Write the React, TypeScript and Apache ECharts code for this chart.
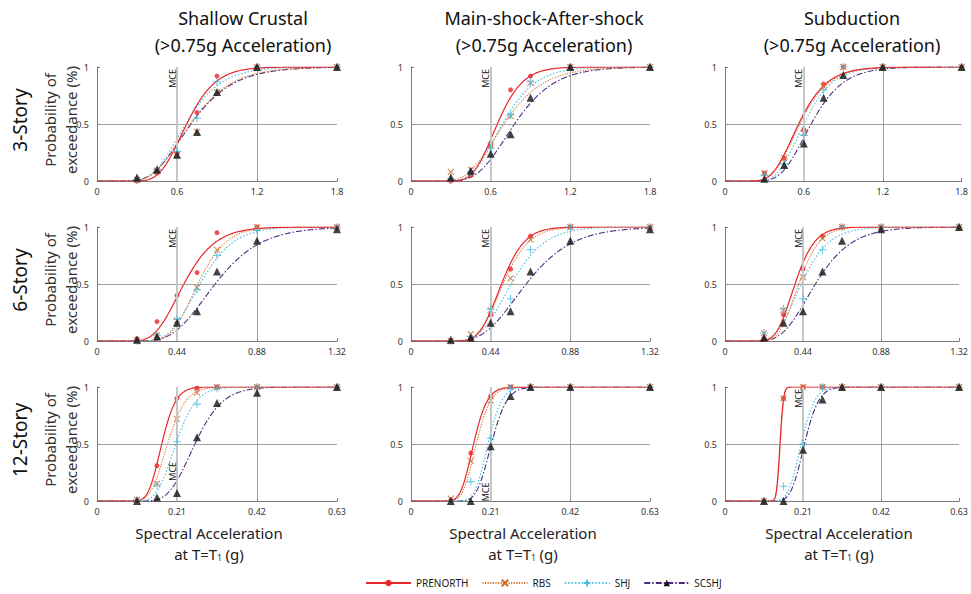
import React, { useEffect, useRef } from 'react';
import * as echarts from 'echarts';

// ---- data -------------------------------------------------------------
const METHODS = ['PRENORTH', 'RBS', 'SHJ', 'SCSHJ'];
const HAZARDS = ['Shallow Crustal', 'Main-shock-After-shock', 'Subduction'];
const STOREYS = ['3-Story', '6-Story', '12-Story'];

// axis extent and MCE level of each building row (g)
const X_MAX = [1.8, 1.32, 0.63];
const MCE = [0.6, 0.44, 0.21];

// intensity levels of the incremental dynamic analyses (g)
const X_3STORY = [0.3, 0.45, 0.6, 0.75, 0.9, 1.2, 1.8];
const X_6STORY = [0.22, 0.33, 0.44, 0.55, 0.66, 0.88, 1.32];
const X_12STORY = [0.105, 0.1575, 0.21, 0.2625, 0.315, 0.42, 0.63];

// observed exceedance fractions, rows = PRENORTH, RBS, SHJ, SCSHJ
const OBS_3_SHALLOW = [
  [0, 0.07, 0.24, 0.6, 0.92, 1, 1],
  [0.01, 0.09, 0.23, 0.43, 0.78, 1, 1],
  [0.01, 0.1, 0.26, 0.55, 0.87, 1, 1],
  [0.03, 0.1, 0.23, 0.43, 0.78, 1, 1],
];
const OBS_3_MAINAFTER = [
  [0, 0.05, 0.31, 0.8, 0.92, 1, 1],
  [0.08, 0.1, 0.31, 0.57, 0.86, 1, 1],
  [0.02, 0.08, 0.29, 0.58, 0.87, 1, 1],
  [0.03, 0.09, 0.24, 0.41, 0.73, 1, 1],
];
const OBS_3_SUBDUCTION = [
  [0.07, 0.2, 0.45, 0.85, 1, 1, 1],
  [0.07, 0.2, 0.42, 0.83, 1, 1, 1],
  [0.05, 0.15, 0.4, 0.8, 1, 1, 1],
  [0.02, 0.14, 0.33, 0.73, 0.93, 1, 1],
];
const OBS_6_SHALLOW = [
  [0.02, 0.17, 0.4, 0.6, 0.95, 1, 1],
  [0, 0.05, 0.18, 0.47, 0.8, 1, 1],
  [0, 0.05, 0.19, 0.45, 0.75, 0.97, 1],
  [0.01, 0.04, 0.16, 0.26, 0.61, 0.88, 0.98],
];
const OBS_6_MAINAFTER = [
  [0, 0.02, 0.23, 0.63, 0.92, 1, 1],
  [0, 0.06, 0.27, 0.55, 0.89, 1, 1],
  [0, 0.04, 0.28, 0.37, 0.8, 1, 1],
  [0.01, 0.03, 0.16, 0.26, 0.61, 0.88, 0.98],
];
const OBS_6_SUBDUCTION = [
  [0.02, 0.23, 0.63, 0.92, 1, 1, 1],
  [0.07, 0.27, 0.56, 0.9, 1, 1, 1],
  [0.07, 0.28, 0.37, 0.8, 1, 1, 1],
  [0.03, 0.16, 0.26, 0.61, 0.88, 0.98, 1],
];
const OBS_12_SHALLOW = [
  [0.01, 0.31, 0.9, 0.99, 1, 1, 1],
  [0.01, 0.15, 0.72, 0.95, 1, 1, 1],
  [0.01, 0.14, 0.52, 0.85, 0.99, 1, 1],
  [0, 0.03, 0.07, 0.56, 0.86, 0.95, 1],
];
const OBS_12_MAINAFTER = [
  [0.01, 0.42, 0.92, 1, 1, 1, 1],
  [0.02, 0.35, 0.88, 1, 1, 1, 1],
  [0, 0.17, 0.55, 0.99, 1, 1, 1],
  [0, 0, 0.48, 0.92, 1, 1, 1],
];
const OBS_12_SUBDUCTION = [
  [0, 0.9, 1, 1, 1, 1, 1],
  [0, 0.9, 1, 1, 1, 1, 1],
  [0, 0.13, 0.5, 1, 1, 1, 1],
  [0, 0, 0.45, 0.89, 1, 1, 1],
];

// fitted lognormal fragility parameters [median (g), dispersion beta]
const FIT_3_SHALLOW = [[0.673, 0.25], [0.7, 0.34], [0.665, 0.31], [0.705, 0.35]];
const FIT_3_MAINAFTER = [[0.65, 0.23], [0.7, 0.33], [0.69, 0.28], [0.78, 0.3]];
const FIT_3_SUBDUCTION = [[0.56, 0.3], [0.57, 0.3], [0.6, 0.28], [0.655, 0.29]];
const FIT_6_SHALLOW = [[0.478, 0.28], [0.555, 0.22], [0.567, 0.25], [0.65, 0.3]];
const FIT_6_MAINAFTER = [[0.5, 0.2], [0.508, 0.22], [0.554, 0.26], [0.636, 0.31]];
const FIT_6_SUBDUCTION = [[0.395, 0.22], [0.416, 0.22], [0.43, 0.28], [0.51, 0.31]];
const FIT_12_SHALLOW = [[0.17, 0.17], [0.185, 0.2], [0.207, 0.2], [0.257, 0.22]];
const FIT_12_MAINAFTER = [[0.165, 0.17], [0.172, 0.17], [0.203, 0.14], [0.212, 0.15]];
const FIT_12_SUBDUCTION = [[0.148, 0.05], [0.149, 0.05], [0.205, 0.14], [0.214, 0.14]];

// height (probability) where the MCE tag sits in each panel
const MCE_TAG_Y = [
  [0.9, 0.9, 0.9],
  [0.9, 0.9, 0.9],
  [0.26, 0.08, 0.9],
];

// ---- layout & styles ----------------------------------------------------
const FONT = 'Noto Sans';
const GRID_LEFT = [97, 411, 725];
const GRID_WIDTH = [240, 239, 238];
const GRID_TOP = [67, 227, 387];
const GRID_HEIGHT = 114;

const X_LEVELS = [X_3STORY, X_6STORY, X_12STORY];
const OBS = [
  [OBS_3_SHALLOW, OBS_3_MAINAFTER, OBS_3_SUBDUCTION],
  [OBS_6_SHALLOW, OBS_6_MAINAFTER, OBS_6_SUBDUCTION],
  [OBS_12_SHALLOW, OBS_12_MAINAFTER, OBS_12_SUBDUCTION],
];
const FIT = [
  [FIT_3_SHALLOW, FIT_3_MAINAFTER, FIT_3_SUBDUCTION],
  [FIT_6_SHALLOW, FIT_6_MAINAFTER, FIT_6_SUBDUCTION],
  [FIT_12_SHALLOW, FIT_12_MAINAFTER, FIT_12_SUBDUCTION],
];

const CROSS = 'path://M0,0L10,10M10,0L0,10';
const PLUS = 'path://M5,0L5,10M0,5L10,5';

const STYLE: Record<string, any> = {
  PRENORTH: { line: '#e8262c', mark: '#e8262c', dash: 'solid', width: 1.2, symbol: 'circle', size: 5, stroke: false },
  RBS: { line: '#d4742e', mark: '#cf6a2a', dash: [1.2, 1.4], width: 1.1, symbol: CROSS, size: 6, stroke: true },
  SHJ: { line: '#58c4e4', mark: '#45bde2', dash: [1.6, 1.8], width: 1.2, symbol: PLUS, size: 8, stroke: true },
  SCSHJ: { line: '#4c2c80', mark: '#111111', dash: [6, 2, 1.5, 2], width: 1.1, symbol: 'triangle', size: 8, stroke: false },
};

// standard normal CDF (Abramowitz & Stegun 7.1.26)
function normCdf(z: number): number {
  const x = Math.abs(z) / Math.SQRT2;
  const t = 1 / (1 + 0.3275911 * x);
  const y =
    1 -
    ((((1.061405429 * t - 1.453152027) * t + 1.421413741) * t - 0.284496736) * t + 0.254829592) *
      t *
      Math.exp(-x * x);
  return z >= 0 ? 0.5 * (1 + y) : 0.5 * (1 - y);
}

function fragilityCurve(median: number, beta: number, xmax: number): number[][] {
  const pts: number[][] = [];
  const n = 400;
  for (let i = 0; i <= n; i++) {
    const x = (xmax * i) / n;
    pts.push([x, x <= 0 ? 0 : normCdf(Math.log(x / median) / beta)]);
  }
  return pts;
}

const tickFmt = (v: number) => (v === 0 ? '0' : String(parseFloat(v.toFixed(4))));

function markerItemStyle(s: any) {
  return s.stroke
    ? { color: 'rgba(0,0,0,0)', borderColor: s.mark, borderWidth: 1.1 }
    : { color: s.mark, borderWidth: 0 };
}

function buildOption() {
  const grid: any[] = [];
  const xAxis: any[] = [];
  const yAxis: any[] = [];
  const series: any[] = [];

  // legend entries: line sample + marker
  METHODS.forEach((m) => {
    const s = STYLE[m];
    series.push({
      type: 'line',
      name: m,
      data: [],
      symbol: s.symbol,
      symbolSize: s.size,
      itemStyle: markerItemStyle(s),
      lineStyle: { color: s.line, type: s.dash, width: s.width },
    });
  });

  const axisColor = '#7a7a7a';
  for (let r = 0; r < 3; r++) {
    for (let c = 0; c < 3; c++) {
      const i = r * 3 + c;
      grid.push({ left: GRID_LEFT[c], top: GRID_TOP[r], width: GRID_WIDTH[c], height: GRID_HEIGHT });
      xAxis.push({
        gridIndex: i,
        type: 'value',
        min: 0,
        max: X_MAX[r],
        interval: MCE[r],
        axisLine: { show: true, onZero: false, lineStyle: { color: axisColor, width: 1 } },
        axisTick: { show: true, inside: true, length: 3, lineStyle: { color: axisColor } },
        axisLabel: { fontSize: 9, color: '#333', margin: 6, fontFamily: FONT, formatter: tickFmt },
        splitLine: { show: false },
      });
      yAxis.push({
        gridIndex: i,
        type: 'value',
        min: 0,
        max: 1,
        interval: 0.5,
        axisLine: { show: true, onZero: false, lineStyle: { color: axisColor, width: 1 } },
        axisTick: { show: true, inside: true, length: 3, lineStyle: { color: axisColor } },
        axisLabel: { fontSize: 9, color: '#333', margin: 8, fontFamily: FONT, formatter: tickFmt },
        splitLine: { show: false },
      });

      // grid lines and the MCE level
      series.push({
        type: 'line',
        xAxisIndex: i,
        yAxisIndex: i,
        data: [[0, 0]],
        showSymbol: false,
        lineStyle: { opacity: 0 },
        z: 1,
        silent: true,
        markLine: {
          silent: true,
          symbol: 'none',
          animation: false,
          label: { show: false },
          data: [
            { xAxis: MCE[r] * 2, lineStyle: { color: '#8a8a8a', width: 0.8, type: 'solid' } },
            { yAxis: 0.5, lineStyle: { color: '#8a8a8a', width: 0.8, type: 'solid' } },
            { xAxis: MCE[r], lineStyle: { color: '#c6c6c6', width: 2, type: 'solid' } },
          ],
        },
      });

      // fitted curves (red drawn last so it sits on top)
      for (let k = METHODS.length - 1; k >= 0; k--) {
        const m = METHODS[k];
        const s = STYLE[m];
        const [median, beta] = FIT[r][c][k];
        series.push({
          type: 'line',
          name: m,
          xAxisIndex: i,
          yAxisIndex: i,
          data: fragilityCurve(median, beta, X_MAX[r]),
          showSymbol: false,
          symbol: 'none',
          smooth: false,
          lineStyle: { color: s.line, type: s.dash, width: s.width },
          z: 2,
        });
      }

      // observed fractions
      METHODS.forEach((m, k) => {
        const s = STYLE[m];
        series.push({
          type: 'scatter',
          name: m,
          xAxisIndex: i,
          yAxisIndex: i,
          data: OBS[r][c][k].map((y, j) => [X_LEVELS[r][j], y]),
          symbol: s.symbol,
          symbolSize: s.size,
          itemStyle: markerItemStyle(s),
          z: 3 + k,
        });
      });
    }
  }

  return {
    animation: false,
    backgroundColor: '#ffffff',
    textStyle: { fontFamily: FONT },
    legend: {
      data: METHODS,
      left: 365,
      top: 578,
      padding: 0,
      itemWidth: 45,
      itemHeight: 8,
      itemGap: 13,
      textStyle: { fontSize: 10, color: '#1a1a1a', fontFamily: FONT },
    },
    grid,
    xAxis,
    yAxis,
    series,
  };
}

function staticGraphics(): any[] {
  const g: any[] = [];
  const titleX = [243, 544, 852];
  const titleY = [18, 45];
  HAZARDS.forEach((h, c) => {
    [h, '(>0.75g Acceleration)'].forEach((t, line) => {
      g.push({
        type: 'text',
        x: titleX[c],
        y: titleY[line],
        style: { text: t, fontSize: 18, fontFamily: FONT, fill: '#111', align: 'center', verticalAlign: 'middle' },
      });
    });
  });

  const rowY = [120, 280, 440];
  STOREYS.forEach((s, r) => {
    g.push({
      type: 'text',
      x: 20,
      y: rowY[r],
      rotation: Math.PI / 2,
      style: { text: s, fontSize: 19, fontFamily: FONT, fill: '#111', align: 'center', verticalAlign: 'middle' },
    });
    g.push({
      type: 'text',
      x: 50,
      y: rowY[r],
      rotation: Math.PI / 2,
      style: { text: 'Probability of', fontSize: 15, fontFamily: FONT, fill: '#333', align: 'center', verticalAlign: 'middle' },
    });
    g.push({
      type: 'text',
      x: 71,
      y: rowY[r],
      rotation: Math.PI / 2,
      style: { text: 'exceedance (%)', fontSize: 15, fontFamily: FONT, fill: '#333', align: 'center', verticalAlign: 'middle' },
    });
  });

  const nameX = [209, 523, 839];
  nameX.forEach((x) => {
    g.push({
      type: 'text',
      x,
      y: 533,
      style: { text: 'Spectral Acceleration', fontSize: 15, lineHeight: 16, fontFamily: FONT, fill: '#222', align: 'center', verticalAlign: 'middle' },
    });
    g.push({
      type: 'text',
      x,
      y: 554,
      style: {
        text: 'at T=T{sub|1} (g)',
        fontSize: 15,
        lineHeight: 16,
        fontFamily: FONT,
        fill: '#222',
        align: 'center',
        verticalAlign: 'middle',
        rich: { sub: { fontSize: 8, lineHeight: 16, fontFamily: FONT, fill: '#222', padding: [6, 0, 0, 0] } },
      },
    });
  });
  return g;
}

export default function App() {
  const ref = useRef<HTMLDivElement>(null);

  useEffect(() => {
    if (!ref.current) return;
    const chart = echarts.init(ref.current, null, { renderer: 'svg' });
    chart.setOption(buildOption() as any);

    // MCE tags placed through each panel's own scales
    const tags: any[] = [];
    for (let r = 0; r < 3; r++) {
      for (let c = 0; c < 3; c++) {
        const i = r * 3 + c;
        const p = chart.convertToPixel({ xAxisIndex: i, yAxisIndex: i } as any, [MCE[r], MCE_TAG_Y[r][c]]) as number[];
        tags.push({
          type: 'text',
          x: p[0] - 5,
          y: p[1],
          rotation: Math.PI / 2,
          z: 10,
          style: { text: 'MCE', fontSize: 9, fontFamily: FONT, fill: '#222', align: 'center', verticalAlign: 'middle' },
        });
      }
    }
    chart.setOption({ graphic: [...staticGraphics(), ...tags] } as any);

    return () => chart.dispose();
  }, []);

  return (
    <div
      ref={ref}
      style={{ position: 'fixed', left: 0, top: 0, width: 971, height: 594, background: '#fff' }}
    />
  );
}
